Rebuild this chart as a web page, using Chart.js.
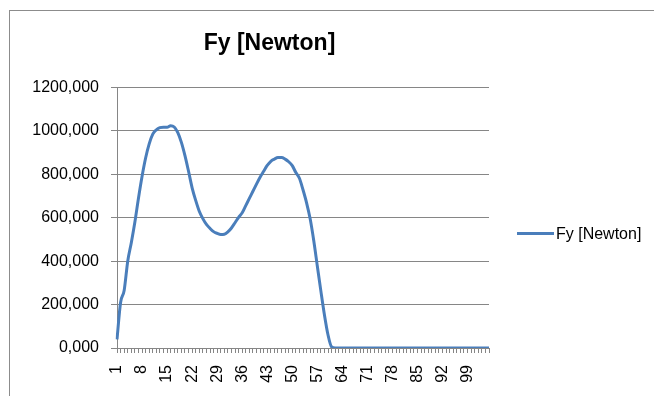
<!DOCTYPE html>
<html>
<head>
<meta charset="utf-8">
<script src="https://cdn.jsdelivr.net/npm/chart.js@4/dist/chart.umd.min.js"></script>
<style>
  html, body { margin: 0; padding: 0; background: #fff; overflow: hidden; }
  #wrap { position: relative; width: 654px; height: 396px; }
  #frame { position: absolute; left: 9px; top: 10px; width: 700px; height: 500px; border: 1px solid #8c8c8c; }
  #fy { position: absolute; left: 0; top: 0; }
  .title { position: absolute; left: 0; top: 29px; width: 539px; text-align: center; line-height: 28px;
           font: bold 23px "Liberation Sans", Arial, sans-serif; color: #000; }
  .legend { position: absolute; left: 517px; top: 225px; font: 16px "Liberation Sans", Arial, sans-serif; color: #000; white-space: nowrap; }
  .legend .swatch { display: inline-block; width: 37px; height: 3px; background: #4a7ebb; vertical-align: middle; margin-right: 2px; position: relative; top: -1px; }
</style>
</head>
<body>
<div id="wrap">
  <div id="frame"></div>
  <canvas id="fy" width="654" height="396"></canvas>
  <div class="title" id="title"></div>
  <div class="legend"><span class="swatch"></span><span id="legend-text"></span></div>
</div>
<script>
// --- DATA ---
const seriesName = "Fy [Newton]";

// categories 1..105
const categories = [
  "1","2","3","4","5","6","7","8","9","10","11","12","13","14","15",
  "16","17","18","19","20","21","22","23","24","25","26","27","28","29","30",
  "31","32","33","34","35","36","37","38","39","40","41","42","43","44","45",
  "46","47","48","49","50","51","52","53","54","55","56","57","58","59","60",
  "61","62","63","64","65","66","67","68","69","70","71","72","73","74","75",
  "76","77","78","79","80","81","82","83","84","85","86","87","88","89","90",
  "91","92","93","94","95","96","97","98","99","100","101","102","103","104","105"
];

// values
const fyValues = [
  40, 210, 265, 400, 485, 580, 690, 790, 875, 940, 985, 1005, 1015, 1017, 1017,
  1024, 1018, 992, 947, 886, 814, 738, 680, 630, 596, 569, 551, 536, 528, 523,
  524, 535, 553, 577, 602, 623, 656, 689, 722, 755, 787, 814, 841, 860, 870,
  877, 877, 870, 858, 840, 808, 782, 729, 669, 595, 495, 378, 262, 152, 60,
  5, 0, 0, 0, 0, 0, 0, 0, 0, 0, 0, 0, 0, 0, 0,
  0, 0, 0, 0, 0, 0, 0, 0, 0, 0, 0, 0, 0, 0, 0,
  0, 0, 0, 0, 0, 0, 0, 0, 0, 0, 0, 0, 0, 0, 0
];

const yTicks = [0, 200, 400, 600, 800, 1000, 1200];
const labelEvery = 7;

// --- helpers ---
function commaNum(v) {
  return v.toFixed(3).replace(".", ",");
}

const gridGray = "#868686";
const font16 = { family: "'Liberation Sans', Arial, sans-serif", size: 16 };

// title + legend text (html, placed like the excel chart)
document.getElementById("title").textContent = seriesName;
document.getElementById("legend-text").textContent = seriesName;

// --- CHART ---
const ctx = document.getElementById("fy").getContext("2d");

new Chart(ctx, {
  type: "line",
  data: {
    labels: categories,
    datasets: [{
      label: seriesName,
      data: fyValues,
      borderColor: "#4a7ebb",
      backgroundColor: "#4a7ebb",
      borderWidth: 3,
      pointRadius: 0,
      cubicInterpolationMode: "monotone",
      fill: false
    }]
  },
  options: {
    responsive: false,
    animation: false,
    devicePixelRatio: 1,
    layout: { padding: { left: 20, right: 165, top: 87.5, bottom: 0 } },
    plugins: {
      legend: { display: false },
      tooltip: { enabled: false },
      title: { display: false }
    },
    scales: {
      x: {
        type: "category",
        offset: false,
        afterFit: s => { s.height = 48; },
        grid: { display: true, drawOnChartArea: false, drawTicks: true, tickLength: 5, color: gridGray },
        border: { display: true, color: gridGray, width: 1 },
        ticks: {
          autoSkip: false,
          minRotation: 90,
          maxRotation: 90,
          padding: 12,
          color: "#000",
          font: font16,
          callback: function (val, i) {
            return i % labelEvery === 0 ? categories[i] : "";
          }
        }
      },
      y: {
        min: yTicks[0],
        max: yTicks[yTicks.length - 1],
        afterFit: s => { s.width = 97; },
        afterBuildTicks: s => { s.ticks = yTicks.map(v => ({ value: v })); },
        grid: { color: gridGray, drawTicks: true, tickLength: 6 },
        border: { display: true, color: gridGray, width: 1 },
        ticks: {
          padding: 12,
          color: "#000",
          font: font16,
          callback: v => commaNum(v)
        }
      }
    }
  }
});
</script>
</body>
</html>
